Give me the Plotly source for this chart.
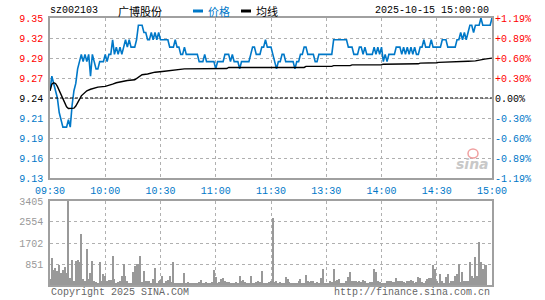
import plotly.graph_objects as go

W, H = 545, 300

prev_close = 9.24
price_range = [9.13, 9.35]
vol_max = 3405

minutes = list(range(241))

price = [
    9.25, 9.27, 9.26, 9.25, 9.24, 9.22, 9.21, 9.20, 9.20, 9.20,
    9.21, 9.20, 9.23, 9.25, 9.26, 9.28, 9.29, 9.30, 9.29, 9.30,
    9.29, 9.30, 9.27, 9.30, 9.29, 9.28, 9.28, 9.29, 9.29, 9.29,
    9.30, 9.29, 9.30, 9.30, 9.32, 9.30, 9.31, 9.30, 9.31, 9.30,
    9.31, 9.32, 9.31, 9.32, 9.31, 9.31, 9.31, 9.32, 9.34, 9.34,
    9.34, 9.33, 9.33, 9.32, 9.32, 9.33, 9.32, 9.33, 9.32, 9.33,
    9.32, 9.32, 9.32, 9.32, 9.32, 9.31, 9.31, 9.31, 9.32, 9.31,
    9.31, 9.30, 9.30, 9.31, 9.30, 9.30, 9.30, 9.30, 9.30, 9.30,
    9.30, 9.29, 9.29, 9.29, 9.30, 9.29, 9.29, 9.29, 9.29, 9.29,
    9.28, 9.29, 9.29, 9.29, 9.29, 9.30, 9.30, 9.30, 9.29, 9.30,
    9.29, 9.29, 9.29, 9.28, 9.29, 9.29, 9.29, 9.29, 9.29, 9.30,
    9.31, 9.31, 9.30, 9.30, 9.30, 9.31, 9.31, 9.32, 9.31, 9.31,
    9.31, 9.30, 9.29, 9.28, 9.29, 9.29, 9.30, 9.30, 9.29, 9.29,
    9.29, 9.29, 9.29, 9.28, 9.29, 9.29, 9.30, 9.30, 9.31, 9.31,
    9.30, 9.30, 9.30, 9.30, 9.29, 9.29, 9.30, 9.30, 9.30, 9.30,
    9.30, 9.30, 9.30, 9.30, 9.32, 9.32, 9.32, 9.32, 9.32, 9.32,
    9.32, 9.32, 9.31, 9.31, 9.31, 9.30, 9.30, 9.30, 9.31, 9.31,
    9.30, 9.31, 9.30, 9.30, 9.30, 9.30, 9.31, 9.30, 9.31, 9.30,
    9.31, 9.29, 9.30, 9.29, 9.30, 9.30, 9.30, 9.30, 9.31, 9.31,
    9.31, 9.30, 9.31, 9.30, 9.31, 9.30, 9.31, 9.30, 9.31, 9.30,
    9.30, 9.31, 9.31, 9.32, 9.31, 9.31, 9.31, 9.32, 9.31, 9.31,
    9.31, 9.31, 9.31, 9.32, 9.32, 9.32, 9.31, 9.31, 9.31, 9.31,
    9.31, 9.32, 9.32, 9.33, 9.32, 9.33, 9.32, 9.33, 9.34, 9.34,
    9.33, 9.34, 9.34, 9.34, 9.35, 9.34, 9.34, 9.34, 9.34, 9.34,
    9.35,
]

avg_minutes = [0, 1, 2, 3, 4, 5, 6, 7, 8, 9, 10, 12, 13, 14, 15, 16, 17, 18, 19, 20,
               22, 24, 26, 30, 32, 34, 36, 39, 42, 46, 48, 50, 53, 57, 61, 67, 73,
               96, 97, 138, 139, 153, 154, 163, 164, 180, 181, 200, 201, 210, 211,
               227, 231, 236, 240]
avg_price = [9.250, 9.259, 9.261, 9.260, 9.256, 9.250, 9.244, 9.238, 9.232, 9.228,
             9.2255, 9.2253, 9.226, 9.229, 9.233, 9.238, 9.243, 9.2455, 9.248, 9.250,
             9.252, 9.254, 9.255, 9.256, 9.257, 9.259, 9.261, 9.263, 9.264, 9.265,
             9.268, 9.272, 9.273, 9.2755, 9.2765, 9.278, 9.2800,
             9.2805, 9.282, 9.282, 9.2835, 9.2835, 9.2845, 9.2845, 9.2855, 9.2857,
             9.2865, 9.287, 9.288, 9.2885, 9.289, 9.2905, 9.291, 9.2935, 9.2948]

volume = [
    257, 1100, 615, 685, 581, 830, 486, 600, 710, 495,
    3405, 284, 1027, 176, 959, 1027, 932, 2060, 243, 176,
    1459, 243, 486, 986, 176, 122, 81, 932, 149, 446,
    351, 176, 216, 216, 1170, 257, 81, 122, 149, 351,
    845, 351, 176, 41, 41, 527, 760, 845, 845, 1170,
    122, 581, 149, 176, 149, 81, 257, 689, 95, 176,
    216, 351, 81, 176, 203, 351, 122, 925, 81, 81,
    81, 95, 81, 486, 41, 108, 68, 68, 68, 68,
    95, 135, 203, 68, 68, 108, 95, 68, 108, 608,
    338, 68, 108, 230, 270, 162, 135, 108, 68, 68,
    68, 108, 68, 365, 162, 203, 108, 68, 68, 365,
    68, 68, 108, 162, 108, 568, 68, 68, 68, 108,
    162, 2730, 108, 162, 68, 108, 68, 68, 338, 243,
    108, 41, 41, 41, 68, 162, 243, 68, 68, 405,
    162, 135, 162, 162, 68, 135, 68, 270, 635, 68,
    68, 68, 162, 108, 635, 162, 203, 243, 68, 68,
    68, 162, 338, 540, 162, 162, 162, 108, 162, 108,
    203, 162, 68, 68, 108, 108, 635, 540, 162, 108,
    68, 68, 68, 162, 162, 162, 108, 108, 270, 162,
    162, 162, 135, 68, 162, 162, 203, 162, 68, 108,
    338, 270, 135, 68, 162, 243, 270, 300, 800, 635,
    162, 68, 460, 162, 68, 338, 460, 68, 162, 162,
    365, 460, 865, 108, 514, 162, 162, 162, 919, 365,
    300, 1149, 365, 1730, 919, 635, 800, 800, 0, 0,
    0,
]

price_ticks = [9.35, 9.3225, 9.295, 9.2675, 9.24, 9.2125, 9.185, 9.1575, 9.13]
price_labels = ["9.35", "9.32", "9.29", "9.27", "9.24", "9.21", "9.19", "9.16", "9.13"]
pct_labels = ["+1.19%", "+0.89%", "+0.60%", "+0.30%", "0.00%",
              "-0.30%", "-0.60%", "-0.89%", "-1.19%"]
time_ticks = [0, 30, 60, 90, 120, 150, 180, 210, 240]
time_labels = ["09:30", "10:00", "10:30", "11:00", "11:30", "13:30", "14:00", "14:30", "15:00"]
vol_ticks = [851, 1702, 2554, 3405]
vol_labels = ["851", "1702", "2554", "3405"]

RED = "#ff0000"
BLUE = "#0078c8"
GRAY = "#999999"
MONO = "Liberation Mono, DejaVu Sans Mono, monospace"


def colored(labels, values):
    out = []
    for lab, v in zip(labels, values):
        c = RED if v > prev_close + 1e-9 else (BLUE if v < prev_close - 1e-9 else "#000000")
        out.append('<span style="color:%s">%s</span>' % (c, lab))
    return out


XD = [50 / W, 492 / W]
YP = [(H - 178) / H, (H - 18) / H]
YV = [(H - 285) / H, (H - 201) / H]

fig = go.Figure()
fig.add_trace(go.Scatter(x=minutes, y=price, mode="lines", xaxis="x", yaxis="y",
                         line=dict(color=BLUE, width=1.6), hoverinfo="skip", showlegend=False))
fig.add_trace(go.Scatter(x=avg_minutes, y=avg_price, mode="lines", xaxis="x", yaxis="y",
                         line=dict(color="#000000", width=1.4), hoverinfo="skip", showlegend=False))
fig.add_trace(go.Scatter(x=[0, 240], y=price_range, mode="markers", xaxis="x", yaxis="y2",
                         marker=dict(opacity=0), hoverinfo="skip", showlegend=False))
fig.add_trace(go.Bar(x=minutes, y=volume, xaxis="x2", yaxis="y3", width=0.6,
                     marker=dict(color="#999999", line=dict(width=0)),
                     hoverinfo="skip", showlegend=False))

grid = dict(showgrid=True, gridcolor="#b0b0b0", griddash="dot", gridwidth=1,
            showline=True, mirror=True, linecolor="#a0a0a0", linewidth=1.5,
            zeroline=False, ticks="", fixedrange=True, automargin=False)

fig.update_layout(
    width=W, height=H, margin=dict(l=0, r=0, t=0, b=0, autoexpand=False),
    paper_bgcolor="white", plot_bgcolor="white",
    font=dict(family=MONO, size=10, color="#000"),
    bargap=0,
    xaxis=dict(domain=XD, range=[0, 240], anchor="y", tickvals=time_ticks, ticktext=time_labels,
               tickfont=dict(color=BLUE, size=10, family=MONO), ticklabelstandoff=2, **grid),
    yaxis=dict(domain=YP, range=price_range, anchor="x", tickvals=price_ticks,
               ticktext=colored(price_labels, price_ticks),
               tickfont=dict(size=10, family=MONO), ticklabelstandoff=3, **grid),
    yaxis2=dict(overlaying="y", side="right", anchor="x", range=price_range,
                tickvals=price_ticks, ticktext=colored(pct_labels, price_ticks),
                tickfont=dict(size=10, family=MONO), showgrid=False, zeroline=False,
                showline=False, ticks="", ticklabelstandoff=2, fixedrange=True, automargin=False),
    xaxis2=dict(domain=XD, range=[0, 240], anchor="y3", tickvals=time_ticks,
                showticklabels=False, **grid),
    yaxis3=dict(domain=YV, range=[0, vol_max], anchor="x2", tickvals=vol_ticks, ticktext=vol_labels,
                tickfont=dict(color=GRAY, size=10, family=MONO), ticklabelstandoff=3, **grid),
)

# previous close reference line
fig.add_shape(type="line", xref="x domain", yref="y", x0=0, x1=1, y0=prev_close, y1=prev_close,
              line=dict(color="#000000", width=1, dash="3px,2px"))


def px(x):
    return x / W


def py(y):
    return (H - y) / H


ann = []
ann.append(dict(text="sz002103", x=px(48), y=py(11), xanchor="left", yanchor="middle",
                font=dict(family=MONO, size=10, color="#000")))
ann.append(dict(text="广博股份", x=px(116), y=py(11), xanchor="left", yanchor="middle",
                font=dict(family="Noto Sans CJK SC", size=11, color="#000")))
ann.append(dict(text="价格", x=px(206), y=py(11), xanchor="left", yanchor="middle",
                font=dict(family="Noto Sans CJK SC", size=11, color=BLUE)))
ann.append(dict(text="均线", x=px(254), y=py(11), xanchor="left", yanchor="middle",
                font=dict(family="Noto Sans CJK SC", size=11, color="#000")))
ann.append(dict(text="2025-10-15 15:00:00", x=px(491), y=py(11), xanchor="right", yanchor="middle",
                font=dict(family=MONO, size=10, color="#000")))
ann.append(dict(text="Copyright 2025 SINA.COM", x=px(49), y=py(292), xanchor="left", yanchor="middle",
                font=dict(family=MONO, size=10, color="#666")))
ann.append(dict(text="http://finance.sina.com.cn", x=px(492), y=py(292), xanchor="right", yanchor="middle",
                font=dict(family=MONO, size=10, color="#666")))
ann.append(dict(text="<b><i>sina</i></b>", x=px(472), y=py(164), xanchor="center", yanchor="middle",
                font=dict(family="DejaVu Sans", size=14, color="#c8c8c8")))
for a in ann:
    a.update(xref="paper", yref="paper", showarrow=False)
fig.update_layout(annotations=ann)

# legend swatches
fig.add_shape(type="line", xref="paper", yref="paper", x0=px(193), x1=px(203), y0=py(11), y1=py(11),
              line=dict(color=BLUE, width=3))
fig.add_shape(type="line", xref="paper", yref="paper", x0=px(241), x1=px(251), y0=py(11), y1=py(11),
              line=dict(color="#000", width=3))
# sina eye mark
fig.add_shape(type="circle", xref="paper", yref="paper", x0=px(468), x1=px(478), y0=py(158), y1=py(149),
              line=dict(color="#f0a0a0", width=1.5), fillcolor="rgba(0,0,0,0)")

fig.write_html("out.html")
